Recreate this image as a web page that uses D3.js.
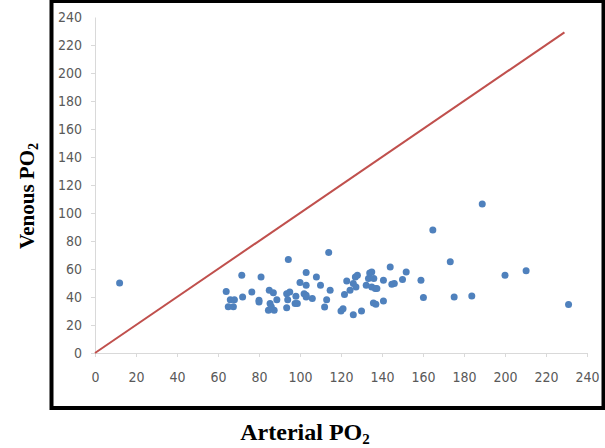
<!DOCTYPE html>
<html>
<head>
<meta charset="utf-8">
<script src="https://cdn.jsdelivr.net/npm/d3@7"></script>
<style>
    body { margin: 0; background: #fff; }
    svg { display: block; }
    .tick text { font-family: "Liberation Sans Narrow", "DejaVu Sans Condensed", sans-serif; font-size: 14px; fill: #595959; }
    .axis-title { font-family: "Liberation Serif", "Times New Roman", serif; font-weight: bold; fill: #000; }
</style>
</head>
<body>
<svg id="chart" width="605" height="448"></svg>
<script>
// arterial / venous PO2 pairs
const arterialPO2 = [12, 64, 65, 66, 68, 67.5, 71.6, 72, 76.5, 81, 80, 80,
    85, 87, 88.7, 85.4, 84.6, 87.4, 86,
    93.5, 95, 94, 93.5, 94.3, 97.6, 98.7, 98,
    100, 102, 103, 103, 103, 103, 106, 108, 110,
    112, 113, 114, 114.7,
    120, 121, 121.7, 122.8, 124.4, 126, 127, 128, 126, 127.3,
    130, 132.3, 133.4, 134, 135, 136, 135, 136.7, 137.5, 135.8, 137,
    140.7, 140.7, 144, 144.8, 146, 150, 151.8, 159, 160.2,
    164.8, 173.3, 175.2, 183.8, 188.9, 200, 210.3, 231];
const venousPO2 = [50, 44, 33, 38, 38, 33, 55.6, 40, 43.6, 54.3, 37.6, 36.4,
    44.8, 43, 38, 35.3, 30.5, 30.5, 33,
    42.4, 43.6, 38, 32.4, 66.8, 35.3, 35.3, 40.5,
    50.3, 42.4, 41.2, 40, 48.4, 57.5, 39, 54.3, 48.4,
    32.8, 38, 71.8, 44.8,
    30, 31.6, 41.7, 51.5, 44.8, 27.4, 54.3, 55.6, 49.6, 47.2,
    30, 48.4, 53.2, 57.2, 57.9, 53.2, 47.2, 46, 46, 35.7, 34.8,
    52, 37.1, 61.5, 49.1, 49.6, 52.5, 57.9, 52, 39.6,
    87.8, 65.1, 40, 40.7, 106.5, 55.6, 58.7, 34.6];
// line of identity
const identityLine = [[0, 0], [229, 229]];
const tickValues = d3.range(0, 241, 20);

const svg = d3.select("#chart");
const margin = { left: 95, right: 18, top: 17, bottom: 95 };
const width = 605, height = 448;

const x = d3.scaleLinear().domain([0, 240]).range([margin.left, width - margin.right]);
const y = d3.scaleLinear().domain([0, 240]).range([height - margin.bottom, margin.top]);

// frame
svg.append("rect")
    .attr("x", 51.5).attr("y", 1)
    .attr("width", 552).attr("height", 407)
    .attr("fill", "none")
    .attr("stroke", "#000")
    .attr("stroke-width", 4);

const xAxis = svg.append("g")
    .attr("transform", `translate(0,${y(0)})`)
    .call(d3.axisBottom(x).tickValues(tickValues).tickSize(4).tickPadding(15).tickSizeOuter(0));

const yAxis = svg.append("g")
    .attr("transform", `translate(${x(0)},0)`)
    .call(d3.axisLeft(y).tickValues(tickValues).tickSize(4).tickPadding(9).tickSizeOuter(0));

[xAxis, yAxis].forEach(a => {
    a.select(".domain").attr("stroke", "#d9d9d9");
    a.selectAll(".tick line").attr("stroke", "#d9d9d9");
});
yAxis.selectAll(".tick").filter(d => d === 240).select("line").remove();
yAxis.selectAll(".tick text").attr("dy", "0.35em");

svg.append("path")
    .datum(identityLine)
    .attr("fill", "none")
    .attr("stroke", "#c0504d")
    .attr("stroke-width", 2)
    .attr("d", d3.line().x(d => x(d[0])).y(d => y(d[1])));

svg.append("g")
    .selectAll("circle")
    .data(arterialPO2.map((a, i) => [a, venousPO2[i]]))
    .join("circle")
    .attr("cx", d => x(d[0]))
    .attr("cy", d => y(d[1]))
    .attr("r", 3.5)
    .attr("fill", "#4f81bd");

// titles with subscript 2
const xTitle = svg.append("text")
    .attr("class", "axis-title")
    .attr("x", 305).attr("y", 440)
    .attr("text-anchor", "middle")
    .style("font-size", "24px");
xTitle.append("tspan").text("Arterial PO");
xTitle.append("tspan").text("2").attr("dy", 4).style("font-size", "15px");

const yTitle = svg.append("text")
    .attr("class", "axis-title")
    .attr("transform", "translate(34,196) rotate(-90)")
    .attr("text-anchor", "middle")
    .style("font-size", "21px");
yTitle.append("tspan").text("Venous PO");
yTitle.append("tspan").text("2").attr("dy", 4).style("font-size", "14px");
</script>
</body>
</html>
